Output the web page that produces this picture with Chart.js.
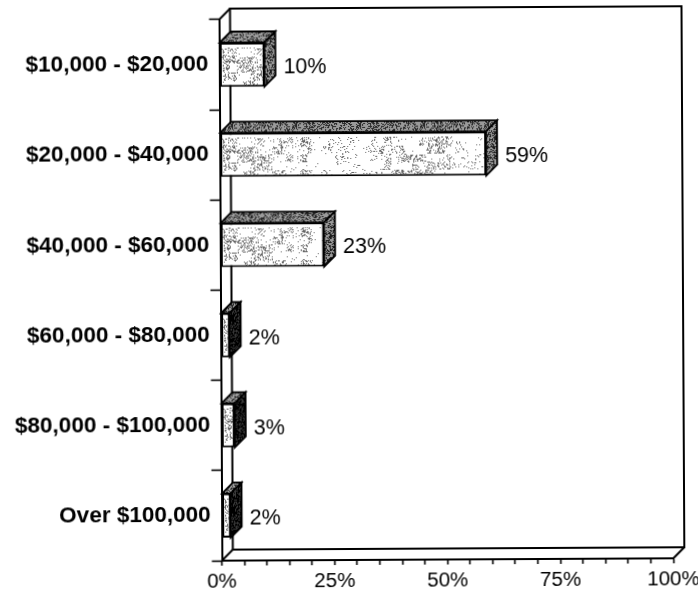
<!DOCTYPE html>
<html>
<head>
<meta charset="utf-8">
<title>Income</title>
<script src="https://cdn.jsdelivr.net/npm/chart.js@4/dist/chart.umd.min.js"></script>
<style>
  html, body { margin: 0; background: #fff; overflow: hidden; }
  /* slight tilt of the whole figure */
  #incomeChart { display: block; transform: rotate(-0.3deg); transform-origin: 349px 296px; }
</style>
</head>
<body>
<canvas id="incomeChart" width="698" height="593"></canvas>
<script>
const incomeRanges = ['$10,000 - $20,000', '$20,000 - $40,000', '$40,000 - $60,000',
                      '$60,000 - $80,000', '$80,000 - $100,000', 'Over $100,000'];
const percents = [10, 59, 23, 2, 3, 2];
const labelledTicks = [0, 25, 50, 75, 100];

const DEPTH = 11;
const FONT = '"Liberation Sans", Arial, sans-serif';

function makeRandom(seed) {
    return () => (seed = (seed * 1103515245 + 12345) & 0x7fffffff) / 0x7fffffff;
}

// even grain for the top and side faces
function grain(base, dots, density) {
    const tile = document.createElement('canvas');
    tile.width = tile.height = 64;
    const c = tile.getContext('2d');
    c.fillStyle = base;
    c.fillRect(0, 0, 64, 64);
    c.fillStyle = dots;
    const next = makeRandom(777);
    for (let y = 0; y < 64; y++) {
        for (let x = 0; x < 64; x++) {
            if (next() < density) c.fillRect(x, y, 1, 1);
        }
    }
    return c.createPattern(tile, 'repeat');
}

// blotchy grain for the front faces; the 90px tile height lines up with the
// category spacing so the dots stay away from the top and bottom bar edges
function blotches() {
    const w = 280, h = 90;
    const tile = document.createElement('canvas');
    tile.width = w;
    tile.height = h;
    const c = tile.getContext('2d');
    c.fillStyle = '#fff';
    c.fillRect(0, 0, w, h);
    const next = makeRandom(4242);
    const cells = [];
    for (let i = 0; i < 40 * 12; i++) cells.push(next());
    c.fillStyle = '#666';
    for (let y = 47; y < 85; y++) {
        for (let x = 0; x < w; x++) {
            const dense = x >= 224 || x < 32 || (x >= 100 && x < 172);
            const cell = cells[Math.floor(x / 7) + 40 * Math.floor(y / 8)];
            const d = (dense ? 0.03 : 0.012) + (cell > 0.5 ? (dense ? 0.3 : 0.1) : 0);
            if (next() < d) c.fillRect(x, y, 1, 1);
        }
    }
    return c.createPattern(tile, 'repeat');
}

const frontFill = blotches();
const topFill = grain('#9a9a9a', '#2a2a2a', 0.4);
const sideFill = grain('#9a9a9a', '#1c1c1c', 0.42);
const darkSideFill = grain('#3a3a3a', '#000000', 0.65);

function polygon(ctx, pts, fill) {
    ctx.beginPath();
    pts.forEach((p, i) => i ? ctx.lineTo(p[0], p[1]) : ctx.moveTo(p[0], p[1]));
    ctx.closePath();
    if (fill) {
        ctx.fillStyle = fill;
        ctx.fill();
    }
    ctx.stroke();
}

// back wall and floor edges
const boxPlugin = {
    id: 'box',
    beforeDatasetsDraw(chart) {
        const { ctx, chartArea: a } = chart;
        ctx.save();
        ctx.strokeStyle = '#000';
        ctx.lineWidth = 2;
        polygon(ctx, [[a.left + DEPTH, a.top - DEPTH], [a.right + DEPTH, a.top - DEPTH],
                      [a.right + DEPTH, a.bottom - DEPTH], [a.left + DEPTH, a.bottom - DEPTH]]);
        ctx.beginPath();
        ctx.moveTo(a.left, a.top);
        ctx.lineTo(a.left + DEPTH, a.top - DEPTH);
        ctx.moveTo(a.left, a.bottom);
        ctx.lineTo(a.left + DEPTH, a.bottom - DEPTH);
        ctx.moveTo(a.right, a.bottom);
        ctx.lineTo(a.right + DEPTH, a.bottom - DEPTH);
        ctx.stroke();
        ctx.restore();
    }
};

// top and side faces of each bar, plus the percent label
const barDepthPlugin = {
    id: 'barDepth',
    beforeDatasetDraw(chart) {
        const { ctx } = chart;
        ctx.save();
        ctx.strokeStyle = '#000';
        ctx.lineWidth = 1.8;
        chart.getDatasetMeta(0).data.forEach((bar, i) => {
            const top = bar.y - bar.height / 2;
            const bottom = bar.y + bar.height / 2;
            polygon(ctx, [[bar.base, top], [bar.base + DEPTH, top - DEPTH],
                          [bar.x + DEPTH, top - DEPTH], [bar.x, top]], topFill);
            polygon(ctx, [[bar.x, top], [bar.x + DEPTH, top - DEPTH],
                          [bar.x + DEPTH, bottom - DEPTH], [bar.x, bottom]],
                    percents[i] < 5 ? darkSideFill : sideFill);
        });
        ctx.restore();
    },
    afterDatasetsDraw(chart) {
        const { ctx } = chart;
        ctx.save();
        ctx.fillStyle = '#000';
        ctx.font = '21.5px ' + FONT;
        ctx.textBaseline = 'middle';
        chart.getDatasetMeta(0).data.forEach((bar, i) => {
            ctx.fillText(percents[i] + '%', bar.x + DEPTH + 8, bar.y + 3);
        });
        ctx.restore();
    }
};

new Chart(document.getElementById('incomeChart').getContext('2d'), {
    type: 'bar',
    data: {
        labels: incomeRanges,
        datasets: [{
            data: percents,
            backgroundColor: frontFill,
            borderColor: '#000',
            borderWidth: 2,
            borderSkipped: false,
            categoryPercentage: 1,
            barPercentage: 0.49
        }]
    },
    options: {
        indexAxis: 'y',
        responsive: false,
        animation: false,
        layout: { padding: { top: 19, right: 26, left: 0, bottom: 0 } },
        plugins: { legend: { display: false }, tooltip: { enabled: false } },
        scales: {
            x: {
                min: 0,
                max: 100,
                // keep the plot width fixed, the last tick label sits in the right padding
                afterFit: s => { s.height = 33; s.paddingRight = 0; s.paddingLeft = 0; },
                border: { color: '#000', width: 2 },
                grid: { drawOnChartArea: false, color: '#000', tickLength: 5, tickWidth: 1.6 },
                ticks: {
                    stepSize: 5,
                    autoSkip: false,
                    maxRotation: 0,
                    padding: 4,
                    color: '#000',
                    font: { family: FONT, size: 20.5 },
                    callback: v => labelledTicks.includes(v) ? v + '%' : ''
                }
            },
            y: {
                afterFit: s => { s.width = 220.5; },
                border: { color: '#000', width: 2 },
                grid: { drawOnChartArea: false, color: '#000', tickLength: 10, tickWidth: 1.6, offset: true },
                ticks: {
                    padding: 1,
                    color: '#000',
                    font: { family: FONT, size: 22.5, weight: 'bold' },
                    z: 1
                }
            }
        }
    },
    plugins: [boxPlugin, barDepthPlugin]
});
</script>
</body>
</html>
